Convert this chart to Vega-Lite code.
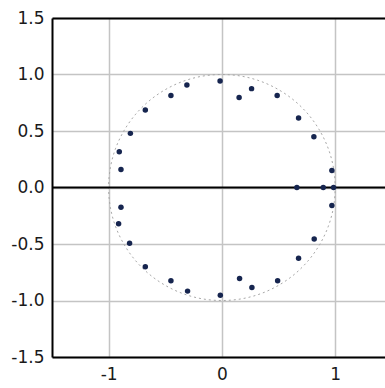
{
  "$schema": "https://vega.github.io/schema/vega-lite/v6.json",
  "width": 333,
  "height": 339,
  "autosize": {"type": "none"},
  "padding": {"left": 52, "top": 18, "right": 0, "bottom": 31},
  "background": "white",
  "config": {"view": {"stroke": null}},
  "datasets": {
    "pts": [
      {"x": -0.309, "y": 0.908}, {"x": -0.45, "y": 0.815}, {"x": -0.676, "y": 0.686},
      {"x": -0.808, "y": 0.479}, {"x": -0.906, "y": 0.316}, {"x": -0.891, "y": 0.16},
      {"x": -0.016, "y": 0.943}, {"x": 0.152, "y": 0.797}, {"x": 0.262, "y": 0.875},
      {"x": 0.488, "y": 0.815}, {"x": 0.677, "y": 0.615}, {"x": 0.812, "y": 0.449},
      {"x": 0.971, "y": 0.15},
      {"x": 0.662, "y": 0}, {"x": 0.895, "y": 0}, {"x": 0.986, "y": 0},
      {"x": -0.891, "y": -0.175}, {"x": -0.912, "y": -0.32}, {"x": -0.815, "y": -0.494},
      {"x": -0.676, "y": -0.701}, {"x": -0.45, "y": -0.825}, {"x": -0.303, "y": -0.917},
      {"x": 0.971, "y": -0.16}, {"x": 0.815, "y": -0.456}, {"x": 0.677, "y": -0.627},
      {"x": 0.492, "y": -0.825}, {"x": 0.265, "y": -0.885}, {"x": 0.156, "y": -0.805},
      {"x": -0.014, "y": -0.953}
    ],
    "circle": [
      {"i": 0, "x": 1.0, "y": 0.0}, {"i": 1, "x": 0.985, "y": 0.174}, {"i": 2, "x": 0.94, "y": 0.342},
      {"i": 3, "x": 0.866, "y": 0.5}, {"i": 4, "x": 0.766, "y": 0.643}, {"i": 5, "x": 0.643, "y": 0.766},
      {"i": 6, "x": 0.5, "y": 0.866}, {"i": 7, "x": 0.342, "y": 0.94}, {"i": 8, "x": 0.174, "y": 0.985},
      {"i": 9, "x": 0.0, "y": 1.0}, {"i": 10, "x": -0.174, "y": 0.985}, {"i": 11, "x": -0.342, "y": 0.94},
      {"i": 12, "x": -0.5, "y": 0.866}, {"i": 13, "x": -0.643, "y": 0.766}, {"i": 14, "x": -0.766, "y": 0.643},
      {"i": 15, "x": -0.866, "y": 0.5}, {"i": 16, "x": -0.94, "y": 0.342}, {"i": 17, "x": -0.985, "y": 0.174},
      {"i": 18, "x": -1.0, "y": 0.0}, {"i": 19, "x": -0.985, "y": -0.174}, {"i": 20, "x": -0.94, "y": -0.342},
      {"i": 21, "x": -0.866, "y": -0.5}, {"i": 22, "x": -0.766, "y": -0.643}, {"i": 23, "x": -0.643, "y": -0.766},
      {"i": 24, "x": -0.5, "y": -0.866}, {"i": 25, "x": -0.342, "y": -0.94}, {"i": 26, "x": -0.174, "y": -0.985},
      {"i": 27, "x": 0.0, "y": -1.0}, {"i": 28, "x": 0.174, "y": -0.985}, {"i": 29, "x": 0.342, "y": -0.94},
      {"i": 30, "x": 0.5, "y": -0.866}, {"i": 31, "x": 0.643, "y": -0.766}, {"i": 32, "x": 0.766, "y": -0.643},
      {"i": 33, "x": 0.866, "y": -0.5}, {"i": 34, "x": 0.94, "y": -0.342}, {"i": 35, "x": 0.985, "y": -0.174}
    ]
  },
  "layer": [
    {
      "data": {"name": "circle"},
      "mark": {"type": "line", "interpolate": "cardinal-closed", "stroke": "#a8a8a8", "strokeWidth": 1, "strokeDash": [2, 3]},
      "encoding": {
        "x": {"field": "x", "type": "quantitative",
          "scale": {"domain": [-1.5, 1.44], "nice": false, "zero": false},
          "axis": {"orient": "bottom", "values": [-1, 0, 1], "title": null,
            "labelExpr": "replace(datum.label, '−', '-')",
            "labelFont": "DejaVu Sans", "labelFontSize": 17, "labelColor": "#1a1a1a", "labelPadding": 9,
            "ticks": false, "domain": true, "domainColor": "#000000", "domainWidth": 2,
            "grid": true, "gridColor": "#c4c4c4", "gridWidth": 1.5}},
        "y": {"field": "y", "type": "quantitative",
          "scale": {"domain": [-1.5, 1.5], "nice": false, "zero": false},
          "axis": {"orient": "left", "values": [-1.5, -1, -0.5, 0, 0.5, 1, 1.5], "format": ".1f", "title": null,
            "labelExpr": "replace(datum.label, '−', '-')",
            "labelFont": "DejaVu Sans", "labelFontSize": 17, "labelColor": "#1a1a1a", "labelPadding": 8,
            "ticks": false, "domain": true, "domainColor": "#000000", "domainWidth": 2,
            "grid": true, "gridColor": "#c4c4c4", "gridWidth": 1.5}},
        "order": {"field": "i", "type": "quantitative"}
      }
    },
    {
      "data": {"values": [{"v": 0}]},
      "mark": {"type": "rule", "color": "#000000", "strokeWidth": 2},
      "encoding": {"y": {"field": "v", "type": "quantitative"}}
    },
    {
      "data": {"values": [{"v": 0}]},
      "mark": {"type": "rule", "opacity": 0},
      "encoding": {
        "x": {"field": "v", "type": "quantitative",
          "axis": {"orient": "top", "labels": false, "ticks": false, "grid": false, "title": null,
            "domain": true, "domainColor": "#000000", "domainWidth": 2}}
      }
    },
    {
      "data": {"name": "pts"},
      "mark": {"type": "point", "shape": "circle", "filled": true, "size": 30, "color": "#16254f", "opacity": 1},
      "encoding": {
        "x": {"field": "x", "type": "quantitative", "axis": null},
        "y": {"field": "y", "type": "quantitative"}
      }
    }
  ],
  "resolve": {"axis": {"x": "independent"}}
}
